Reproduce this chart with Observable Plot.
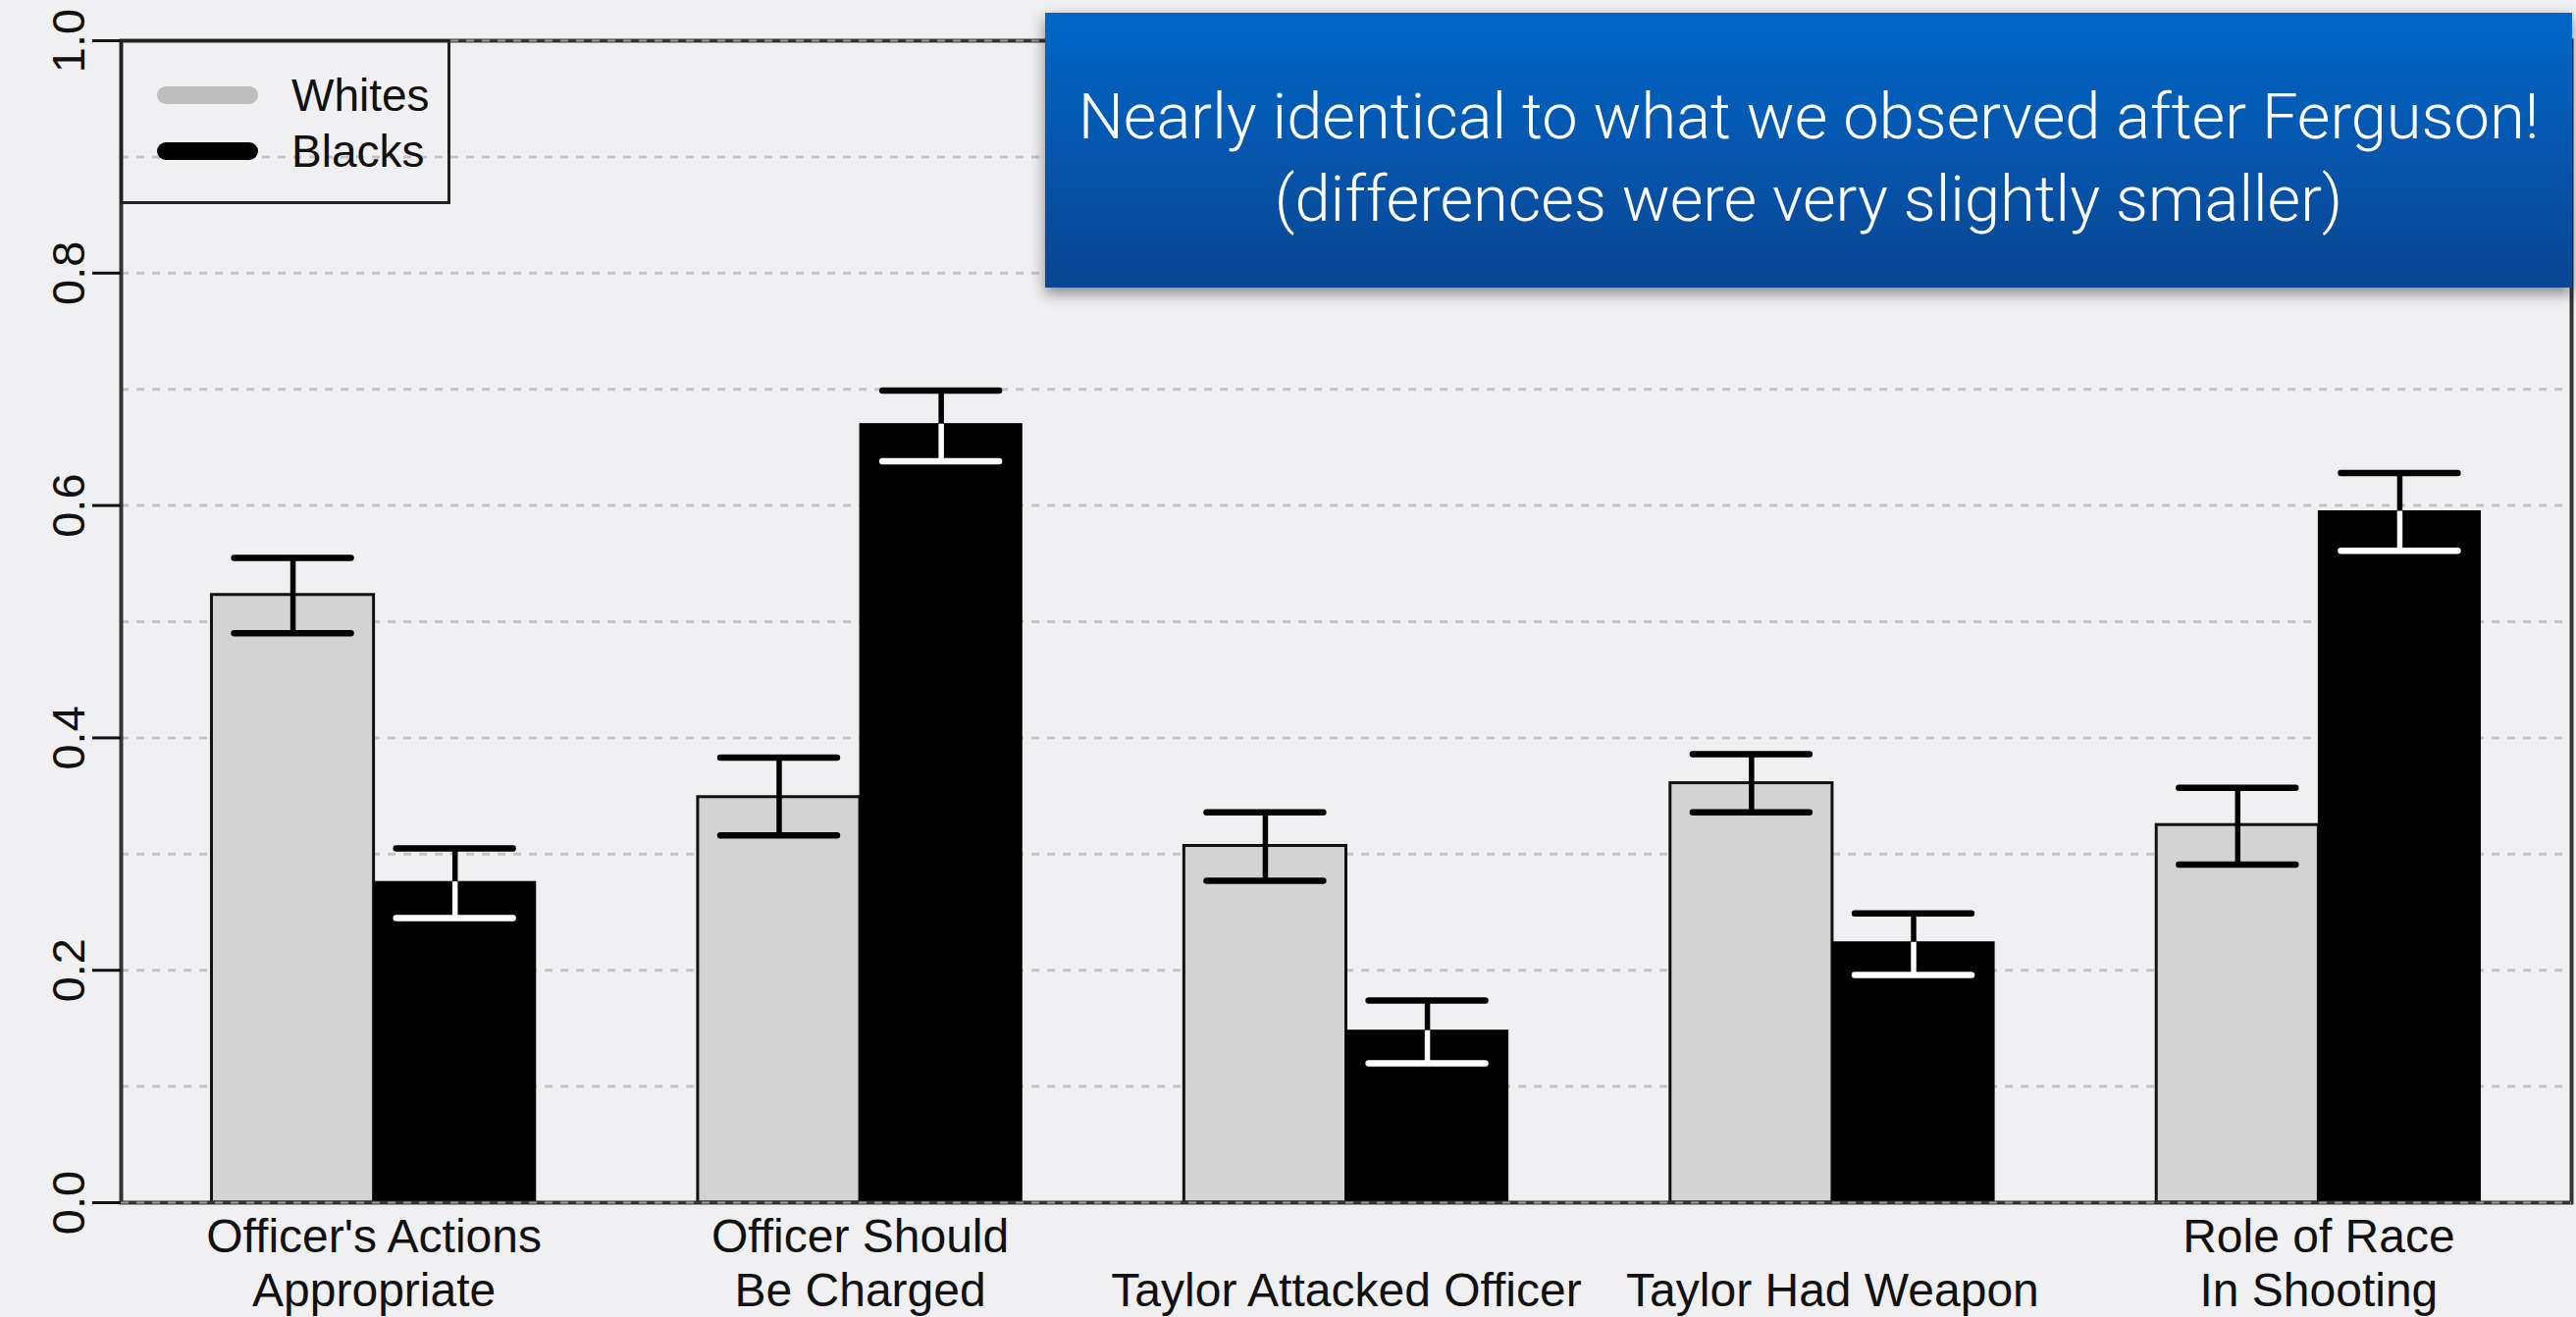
<!DOCTYPE html>
<html>
<head>
<meta charset="utf-8">
<script src="https://cdn.jsdelivr.net/npm/d3@7"></script>
<script src="https://cdn.jsdelivr.net/npm/@observablehq/plot@0.6"></script>
<style>
  html, body { margin: 0; padding: 0; background: #f0f0f3; overflow: hidden; }
  #wrap { position: relative; width: 2625px; height: 1342px; background: #f0f0f3; font-family: "Liberation Sans", Arial, Helvetica, sans-serif; }
  #legend { position: absolute; left: 122px; top: 40px; width: 337px; height: 168px; border: 3px solid #222; box-sizing: border-box; }
  .sw { position: absolute; left: 35px; width: 103px; height: 18px; border-radius: 9px; }
  .lt { position: absolute; left: 172px; font-size: 46px; line-height: 46px; color: #111; }
  #callout { position: absolute; left: 1065px; top: 13px; width: 1556px; height: 280px; box-sizing: border-box; padding-top: 16px;
    background: linear-gradient(#0067c7, #0a4592); box-shadow: 0 6px 14px rgba(0,0,0,0.45);
    display: flex; flex-direction: column; align-items: center; justify-content: center;
    color: #fff; font-family: Roboto, "Open Sans", "Liberation Sans", sans-serif; font-weight: 300; font-size: 65px; line-height: 84px; text-align: center; }
</style>
</head>
<body>
<div id="wrap">
  <div id="chart"></div>
  <div id="legend"></div>
  <div id="callout"></div>
</div>
<script>
// ---- data ----
const categories = [
  "Officer's Actions\nAppropriate",
  "Officer Should\nBe Charged",
  "\nTaylor Attacked Officer",
  "\nTaylor Had Weapon",
  "Role of Race\nIn Shooting"
];
const seriesNames = ["Whites", "Blacks"];
const seriesColors = ["#d3d3d3", "#000000"];
const legendColors = ["#bebebe", "#000000"];

const whites   = [0.523, 0.349, 0.307, 0.361, 0.325];
const whitesLo = [0.490, 0.316, 0.277, 0.336, 0.291];
const whitesHi = [0.555, 0.383, 0.336, 0.386, 0.357];

const blacks   = [0.276, 0.670, 0.148, 0.224, 0.595];
const blacksLo = [0.245, 0.638, 0.120, 0.196, 0.561];
const blacksHi = [0.305, 0.699, 0.174, 0.249, 0.628];

const yTicks = [0, 0.2, 0.4, 0.6, 0.8, 1.0];
const gridTicks = [0.1, 0.2, 0.3, 0.4, 0.5, 0.6, 0.7, 0.8, 0.9];
const edgeTicks = [0, 1];

const calloutLines = [
  "Nearly identical to what we observed after Ferguson!",
  "(differences were very slightly smaller)"
];

// ---- layout like a grouped barplot (bar width 1, gap 1 before each group) ----
const values = [whites, blacks], los = [whitesLo, blacksLo], his = [whitesHi, blacksHi];
const rows = [];
categories.forEach((c, i) => {
  seriesNames.forEach((s, j) => {
    const x1 = 1 + 3 * i + j;
    rows.push({cat: c, series: s, x1, x2: x1 + 1, cx: x1 + 0.5,
      value: values[j][i], lo: los[j][i], hi: his[j][i]});
  });
});
const centers = categories.map((c, i) => 2 + 3 * i);
const labelAt = new Map(centers.map((c, i) => [c, categories[i]]));
const xmin = 1, xmax = 1 + 3 * categories.length - 1;
const pad = 0.04 * (xmax - xmin);
const CAP = 0.36;

const W = rows.filter(d => d.series === "Whites");
const B = rows.filter(d => d.series === "Blacks");

const chart = Plot.plot({
  width: 2625,
  height: 1342,
  marginLeft: 123,
  marginRight: 5,
  marginTop: 41,
  marginBottom: 117,
  style: {background: "transparent", fontFamily: "'Liberation Sans', Arial, Helvetica, sans-serif", color: "#111"},
  x: {type: "linear", domain: [xmin - pad, xmax + pad]},
  y: {domain: [0, 1]},
  marks: [
    Plot.gridY(gridTicks, {stroke: "#c4c4c4", strokeOpacity: 1, strokeWidth: 3, strokeDasharray: "8,8"}),
    Plot.rect(W, {x1: "x1", x2: "x2", y1: 0, y2: "value", fill: seriesColors[0], stroke: "#111", strokeWidth: 3}),
    Plot.rect(B, {x1: "x1", x2: "x2", y1: 0, y2: "value", fill: seriesColors[1], stroke: "#000", strokeWidth: 1}),
    Plot.frame({stroke: "#333", strokeWidth: 4}),
    Plot.gridY(edgeTicks, {stroke: "#9a9a9a", strokeOpacity: 1, strokeWidth: 2, strokeDasharray: "8,8"}),
    // error bars
    Plot.ruleX(W, {x: "cx", y1: "lo", y2: "hi", stroke: "#000", strokeWidth: 5.5}),
    Plot.ruleX(B, {x: "cx", y1: "value", y2: "hi", stroke: "#000", strokeWidth: 5.5}),
    Plot.ruleX(B, {x: "cx", y1: "lo", y2: "value", stroke: "#fff", strokeWidth: 5.5}),
    Plot.ruleY(W, {y: "hi", x1: d => d.cx - CAP, x2: d => d.cx + CAP, stroke: "#000", strokeWidth: 6.5, strokeLinecap: "round"}),
    Plot.ruleY(W, {y: "lo", x1: d => d.cx - CAP, x2: d => d.cx + CAP, stroke: "#000", strokeWidth: 6.5, strokeLinecap: "round"}),
    Plot.ruleY(B, {y: "hi", x1: d => d.cx - CAP, x2: d => d.cx + CAP, stroke: "#000", strokeWidth: 6.5, strokeLinecap: "round"}),
    Plot.ruleY(B, {y: "lo", x1: d => d.cx - CAP, x2: d => d.cx + CAP, stroke: "#fff", strokeWidth: 6.5, strokeLinecap: "round"}),
    // axes
    Plot.axisY({ticks: yTicks, tickFormat: d3.format(".1f"), tickSize: 29, tickPadding: 9, tickRotate: -90, fontSize: 47, strokeWidth: 3, color: "#111"}),
    Plot.axisX({ticks: centers, tickFormat: d => labelAt.get(d), tickSize: 0, tickPadding: 11, fontSize: 48, lineHeight: 55 / 48, color: "#111"})
  ]
});
document.getElementById("chart").appendChild(chart);

// legend (inside plot, top-left)
const legend = document.getElementById("legend");
seriesNames.forEach((s, j) => {
  const sw = document.createElement("div");
  sw.className = "sw";
  sw.style.top = (45 + j * 57) + "px";
  sw.style.background = legendColors[j];
  legend.appendChild(sw);
  const t = document.createElement("div");
  t.className = "lt";
  t.style.top = (31 + j * 57) + "px";
  t.textContent = s;
  legend.appendChild(t);
});

// callout annotation
const callout = document.getElementById("callout");
calloutLines.forEach(l => {
  const d = document.createElement("div");
  d.textContent = l;
  callout.appendChild(d);
});
</script>
</body>
</html>
